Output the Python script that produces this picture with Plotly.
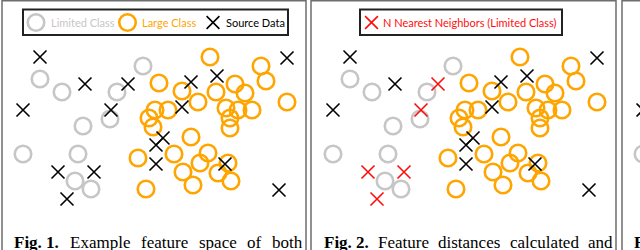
import plotly.graph_objects as go

# ---------------- data (feature space) ----------------
limited_x = [40, 62, 143, 117, 110, 83, 23, 78, 75, 91]
limited_y = [79, 92, 66, 92, 119, 126, 154, 154, 181, 189]

large_x = [210, 261, 266, 287, 159, 182, 198, 216, 235, 245, 155, 168, 149, 153, 226,
           238, 252, 230, 230, 191, 138, 174, 208, 200, 228, 183, 218, 231, 193, 146]
large_y = [57, 66, 81, 102, 83, 91, 102, 92, 84, 93, 110, 110, 118, 127, 108,
           110, 110, 118, 128, 137, 158, 154, 153, 163, 163, 172, 173, 181, 185, 189]

source_x = [40, 85, 128, 23, 111, 191, 217, 287, 182, 163, 156, 156, 225, 279, 58, 94, 67]
source_y = [57, 84, 84, 110, 110, 82, 76, 58, 107, 138, 145, 164, 164, 190, 172, 172, 199]

# indices of source points that are the N nearest neighbours of the limited class
nn_index = [2, 4, 14, 15, 16]

legend1_labels = ["Limited Class", "Large Class", "Source Data"]
legend2_label = "N Nearest Neighbors (Limited Class)"
caption1_words = ["<b>Fig. 1.</b>", "Example", "feature", "space", "of", "both"]
caption2_words = ["<b>Fig. 2.</b>", "Feature", "distances", "calculated", "and"]
caption3_words = ["<b>Fig. 3.</b>"]

# ---------------- styles ----------------
GRAY = "#c6c6c6"
ORANGE = "#ffa500"
RED = "#ff0d0d"
BORDER = "#6e6e6e"
W, H = 640, 250
CIRC = dict(symbol="circle-open", size=16.5)
XMK = dict(symbol="x-thin-open", size=13)

fig = go.Figure()


def add_panel(xa, src_black_idx, src_red_idx):
    fig.add_trace(go.Scatter(x=limited_x, y=limited_y, mode="markers", xaxis=xa, yaxis="y",
                             marker=dict(color=GRAY, line=dict(width=2.6, color=GRAY), **CIRC),
                             hoverinfo="skip", showlegend=False))
    fig.add_trace(go.Scatter(x=large_x, y=large_y, mode="markers", xaxis=xa, yaxis="y",
                             marker=dict(color=ORANGE, line=dict(width=2.6, color=ORANGE), **CIRC),
                             hoverinfo="skip", showlegend=False))
    bx = [source_x[i] for i in src_black_idx]
    by = [source_y[i] for i in src_black_idx]
    fig.add_trace(go.Scatter(x=bx, y=by, mode="markers", xaxis=xa, yaxis="y",
                             marker=dict(color="black", line=dict(width=1.6, color="black"), **XMK),
                             hoverinfo="skip", showlegend=False))
    if src_red_idx:
        rx = [source_x[i] for i in src_red_idx]
        ry = [source_y[i] for i in src_red_idx]
        fig.add_trace(go.Scatter(x=rx, y=ry, mode="markers", xaxis=xa, yaxis="y",
                                 marker=dict(color=RED, line=dict(width=1.6, color=RED), **XMK),
                                 hoverinfo="skip", showlegend=False))


all_idx = list(range(len(source_x)))
add_panel("x", all_idx, [])
add_panel("x2", [i for i in all_idx if i not in nn_index], nn_index)
add_panel("x3", all_idx, [])

shapes = []
annotations = []

# panel frames (paper pixels)
for x0, x1 in [(2, 306), (311, 616), (622, 700)]:
    shapes.append(dict(type="rect", xref="paper", yref="paper", x0=x0 / W, x1=x1 / W,
                       y0=-0.3, y1=1 - 0.8 / H, line=dict(color=BORDER, width=1.5), layer="below"))


def circle_shape(xref, cx, cy, color):
    r = 8.25
    return dict(type="circle", xref=xref, yref="y", x0=cx - r, x1=cx + r, y0=cy - r, y1=cy + r,
                line=dict(color=color, width=2.6))


def x_shape(xref, cx, cy, color):
    d = 6.4
    path = f"M{cx-d},{cy-d} L{cx+d},{cy+d} M{cx+d},{cy-d} L{cx-d},{cy+d}"
    return dict(type="path", xref=xref, yref="y", path=path, line=dict(color=color, width=1.6))


LEGFONT = dict(family="Lato", size=11)
# legend of panel 1
shapes.append(dict(type="rect", xref="x", yref="y", x0=23, x1=288, y0=9.5, y1=35,
                   line=dict(color="#222", width=2), fillcolor="white"))
shapes.append(circle_shape("x", 36, 22.5, GRAY))
shapes.append(circle_shape("x", 127.5, 22.5, ORANGE))
shapes.append(x_shape("x", 213, 22.5, "black"))
for tx, lab, col in zip([48.5, 140, 223.5], legend1_labels, [GRAY, ORANGE, "black"]):
    annotations.append(dict(xref="x", yref="y", x=tx, y=22.5, text=lab, showarrow=False,
                            xanchor="left", yanchor="middle", font=dict(color=col, **LEGFONT)))
# legend of panel 2
shapes.append(dict(type="rect", xref="x2", yref="y", x0=50, x1=252, y0=9.5, y1=35,
                   line=dict(color="#222", width=2), fillcolor="white"))
shapes.append(x_shape("x2", 61.5, 22.5, RED))
annotations.append(dict(xref="x2", yref="y", x=70.5, y=22.5, text=legend2_label, showarrow=False,
                        xanchor="left", yanchor="middle", font=dict(color=RED, **LEGFONT)))

# captions (justified words)
CAPFONT = dict(family="Liberation Serif", size=17, color="black")
for words, starts in [(caption1_words, [12, 67.6, 138.7, 196.6, 245.1, 270.0]),
                      (caption2_words, [322, 376, 436.1, 507.5, 585.5]),
                      (caption3_words, [632])]:
    for wd, sx in zip(words, starts):
        annotations.append(dict(xref="paper", yref="paper", x=sx / W, y=1 - 242 / H, text=wd,
                                showarrow=False, xanchor="left", yanchor="middle", font=CAPFONT))

ax_common = dict(visible=False, fixedrange=True, showgrid=False, zeroline=False)
fig.update_layout(
    width=W, height=H, margin=dict(l=0, r=0, t=0, b=0),
    paper_bgcolor="white", plot_bgcolor="rgba(0,0,0,0)",
    xaxis=dict(domain=[2 / W, 306 / W], range=[2, 306], anchor="y", **ax_common),
    xaxis2=dict(domain=[312 / W, 616 / W], range=[2, 306], anchor="y", **ax_common),
    xaxis3=dict(domain=[622 / W, 1], range=[2, 20], anchor="y", **ax_common),
    yaxis=dict(domain=[0, 1], range=[250, 0], **ax_common),
    shapes=shapes, annotations=annotations, showlegend=False,
)

fig.write_html("out.html", config={"displayModeBar": False},
               post_script="document.body.style.margin='0px';document.body.style.overflow='hidden';")
